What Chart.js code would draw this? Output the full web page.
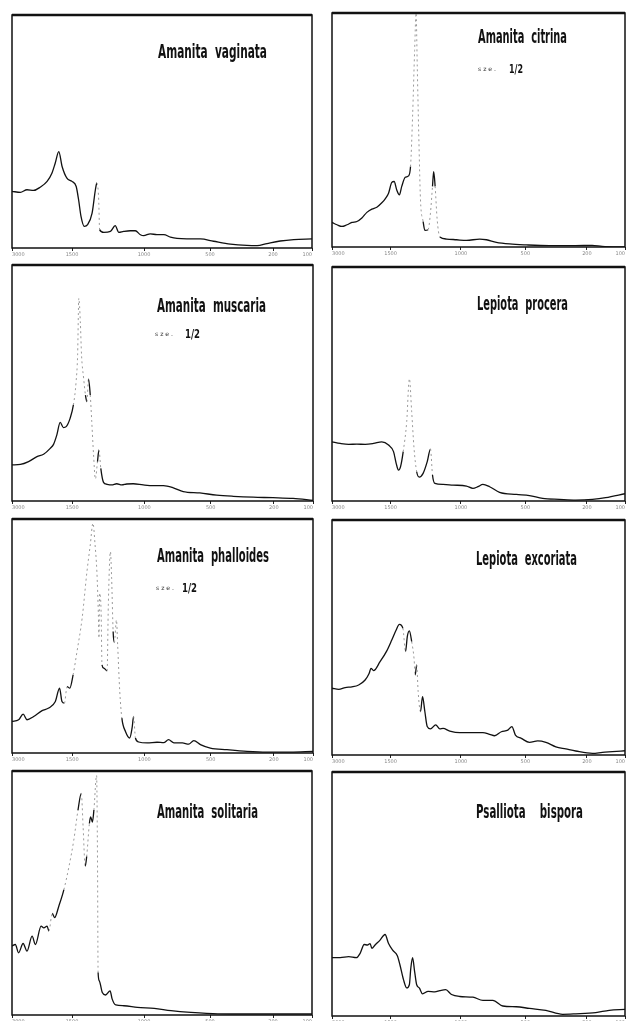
<!DOCTYPE html>
<html>
<head>
<meta charset="utf-8">
<script src="https://cdn.jsdelivr.net/npm/chart.js@4.4.1/dist/chart.umd.min.js"></script>
<style>
    html, body { margin: 0; padding: 0; background: #fff; overflow: hidden; }
    body { width: 626px; height: 1021px; position: relative; }
    .panel { position: absolute; }
    .lbl {
        position: absolute;
        white-space: pre;
        line-height: 1;
        font-family: 'Liberation Sans Narrow', 'DejaVu Sans Condensed', sans-serif;
        font-weight: bold;
        color: #111;
        transform-origin: 0 0;
    }
    .small { font-weight: normal; color: #333; }
</style>
</head>
<body>
<script>
// bottom axis ticks (same on every panel)
const tickPos = [0, 20, 44, 66, 87, 100];
const tickLabels = ['3000', '1500', '1000', '500', '200', '100'];

// curves, x and y in % of the frame
const vaginataX = [0, 2.8, 5, 7.2, 9.4, 11.7, 13.3, 14.4, 15.6, 16.7, 18.3, 20, 21.4, 22.2, 23, 24.1, 25.2, 26.7, 27.8, 28.3, 28.9, 29.2, 30.6, 32.8, 34.4, 35.6, 37.2, 39.4, 41.1, 42.8, 43.9, 46.1, 48.3, 50.6, 52.8, 55, 58.3, 62.8, 67.2, 72.8, 78.3, 81.7, 85, 89.4, 93.9, 100];
const vaginataY = [24.3, 23.9, 25, 24.7, 26.1, 28.6, 32.1, 36.4, 41.4, 35, 30, 28.6, 26.4, 20.7, 13.6, 9.3, 10, 15, 25, 27.9, 20.7, 7.9, 6.7, 7.1, 9.6, 6.7, 7.1, 7.4, 7.4, 5.7, 5.3, 6.1, 5.7, 5.7, 4.7, 4.1, 3.9, 3.9, 2.9, 1.7, 1.1, 1, 1.9, 3, 3.6, 3.9];

const citrinaX = [0, 1.7, 3.4, 5.1, 6.8, 8.5, 10.2, 11.9, 13.6, 15.3, 17, 18.1, 19.3, 20.4, 21.2, 22.1, 23, 23.8, 25, 26.1, 26.8, 27.5, 28.2, 28.7, 29.1, 29.6, 30.2, 31.1, 31.7, 32.8, 33.6, 34.3, 34.7, 35.2, 35.9, 36.8, 39.1, 42.5, 45.9, 50.4, 52.7, 56.1, 60.6, 66.3, 74.2, 83.1, 88.8, 92.2, 100];
const citrinaY = [10.5, 9.5, 8.8, 9.5, 10.5, 10.9, 12.4, 14.8, 16.2, 17, 18.9, 20.5, 23, 27.6, 28, 24.4, 22.3, 25.9, 29.8, 30.4, 34.4, 55.7, 84, 100, 77, 48.6, 20.2, 10.9, 7.1, 7.4, 14.5, 25.9, 32.2, 25.9, 11.6, 4.3, 3.4, 3.1, 2.8, 3.4, 3.1, 2, 1.3, 0.9, 0.6, 0.6, 0.7, 0.3, 0];

const muscariaX = [0, 2.8, 5.5, 8.3, 10.5, 12.7, 13.8, 14.9, 16, 17.1, 18, 19.3, 20.4, 21.3, 21.8, 22.2, 22.7, 23.1, 23.8, 24.4, 24.9, 25.4, 26, 26.5, 27.1, 27.7, 28.4, 28.9, 29.5, 30.4, 31.5, 33.1, 34.8, 36.5, 38.1, 40.3, 43.6, 47, 50.3, 53.6, 56.9, 62.4, 68, 73.5, 80.1, 86.7, 93.4, 100];
const muscariaY = [15.3, 15.5, 16.7, 18.8, 19.8, 22.3, 24, 28, 33.3, 31.1, 31.5, 35, 40.7, 50.6, 61.9, 85.9, 76, 61.9, 52, 44.9, 42.1, 51.7, 44.9, 33.6, 19.5, 9.3, 16.7, 21.6, 13.8, 7.9, 7.1, 6.8, 7.3, 6.8, 7.2, 7.3, 6.8, 6.5, 6.5, 5.6, 4, 3.4, 2.5, 2, 1.6, 1.4, 1.1, 0.3];

const proceraX = [0, 2.8, 5.7, 8.5, 11.3, 14.2, 17, 19.3, 21, 21.9, 22.7, 23.4, 24.3, 25.5, 26.4, 27.2, 28, 28.9, 29.8, 31.1, 32.5, 33.6, 34.3, 35.1, 37.9, 41.3, 45.9, 48.1, 49.8, 51.5, 53.8, 57.2, 62.9, 67.4, 71.9, 77.6, 83.2, 88.9, 93.4, 100];
const proceraY = [25.3, 24.6, 24.2, 24.3, 24.2, 24.6, 25.3, 23.9, 21.1, 16.1, 13.2, 14.7, 21.1, 33.9, 52.3, 38.1, 22.5, 12.5, 10.2, 11.8, 16.8, 22.2, 11.1, 7.5, 7.1, 6.8, 6.4, 5.4, 6.1, 7.1, 6.1, 3.7, 2.8, 2.3, 1.1, 0.7, 0.4, 0.7, 1.4, 3.1];

const phalloidesX = [0, 2.2, 3.7, 5, 7.2, 10, 12.2, 14.4, 15.8, 16.6, 17.4, 18.3, 19.2, 20.3, 21.6, 23.3, 24.9, 26, 26.9, 27.6, 28.2, 28.7, 28.9, 29.1, 29.6, 29.9, 30.5, 31.6, 32, 32.7, 33.1, 33.6, 34, 34.7, 35.1, 35.8, 36.5, 37.7, 39.1, 39.9, 40.4, 41, 42.1, 44.9, 48.2, 50.4, 52, 53.8, 56.6, 58.7, 60.4, 62.6, 65.9, 71.4, 78.1, 84.7, 92.5, 100];
const phalloidesY = [13.5, 14.2, 16.6, 14.2, 15.6, 18.1, 19.2, 22, 27.7, 22, 21.3, 28.4, 27.7, 33.4, 43.4, 57.6, 77.5, 88.9, 98.2, 88.9, 77.5, 59, 49.1, 68.3, 60.5, 37.7, 36.3, 35.1, 63.3, 86.1, 74.7, 51.9, 47.2, 56.9, 46.2, 26.3, 14.9, 9.2, 6.4, 10.7, 15.6, 6.4, 4.7, 4.3, 4.6, 4.4, 5.7, 4.3, 4.3, 3.8, 5.3, 3.6, 2.1, 1.4, 0.7, 0.4, 0.4, 0.7];

const excoriataX = [0, 2.3, 4.5, 6.8, 9.1, 11.3, 12.7, 13.3, 14.2, 16.4, 18.7, 20.4, 21.9, 23, 24.2, 25.1, 25.7, 26.4, 27.2, 28, 28.4, 28.9, 29.4, 30.2, 30.9, 31.7, 32.5, 33.6, 35.4, 36.8, 37.9, 40.2, 43.6, 48.1, 51.5, 53.8, 55.5, 57.8, 60, 61.4, 62.6, 64.6, 67.4, 70.2, 73, 76.4, 79.8, 83.2, 88.9, 92.3, 95.7, 100];
const excoriataY = [28.4, 27.9, 28.7, 29, 29.8, 31.9, 34.8, 36.9, 35.9, 39.7, 44.3, 48.9, 53.2, 55.6, 53.9, 44, 50.4, 52.8, 48.2, 41.1, 34, 38.3, 27, 18.4, 24.8, 18.4, 12.1, 11.1, 12.8, 11.1, 11.3, 10.2, 9.5, 9.5, 9.5, 8.8, 8.2, 9.9, 10.6, 12.1, 8.5, 7.1, 5.4, 6, 5.4, 3.5, 2.6, 1.7, 0.7, 1.1, 1.4, 1.8];

const solitariaX = [0, 1.1, 2.2, 3.7, 5, 6.7, 7.8, 9.7, 10.6, 11.7, 12.3, 13.4, 14.2, 15.6, 17.3, 19, 20.6, 22, 23.1, 23.7, 24.4, 24.9, 25.8, 26.2, 26.8, 27.3, 28.2, 28.5, 28.7, 29.1, 30.1, 31.2, 32.7, 33.4, 34.6, 37.3, 41.8, 47.4, 53, 59.6, 68.6, 79.7, 90.9, 100];
const solitariaY = [28.3, 28.9, 25.5, 29.3, 26.2, 32.3, 28.9, 36.4, 35.7, 36.4, 34.4, 41.6, 39.9, 44.6, 51.4, 60.9, 71.7, 84, 90.8, 77.2, 60.9, 65, 78.5, 81.2, 79.1, 84, 98.2, 63.6, 17.4, 14, 9.2, 8.2, 9.9, 6.5, 4.1, 3.8, 3.1, 2.7, 1.8, 1.1, 0.5, 0.4, 0.4, 0.4];

const bisporaX = [0, 2.8, 5.7, 8.3, 9.6, 11, 12.1, 13, 13.6, 14.7, 16.4, 18.1, 19.3, 20.7, 22.3, 23.2, 24.4, 25.5, 26.4, 26.9, 27.5, 28.2, 28.9, 29.8, 30.9, 32.8, 35.1, 36.8, 38.8, 40.8, 43.6, 48.1, 51.5, 54.9, 58.3, 62.9, 67.4, 73, 78.7, 83.2, 90, 94.6, 100];
const bisporaY = [23.9, 23.9, 24.3, 23.9, 25.7, 29.3, 29.1, 29.7, 27.7, 29.1, 31.1, 33.4, 29.7, 27, 24.7, 20.9, 14.9, 11.5, 12.8, 19.6, 23.9, 18.2, 12.8, 11.5, 9.1, 10.1, 9.9, 10.4, 10.8, 8.8, 8, 7.7, 6.4, 6.4, 4.1, 3.8, 3.1, 2.3, 0.7, 0.9, 1.4, 2.3, 2.7];

// frame of each plot [left, top, right, bottom], title placement, and the
// slope above which the pen trace turns faint
const panels = [
    { name: 'Amanita  vaginata', x: vaginataX, y: vaginataY, box: [12, 15, 312, 248], title: [158, 43.5, 109], sub: null, fast: 9.5 },
    { name: 'Amanita  citrina', x: citrinaX, y: citrinaY, box: [332, 13, 625, 247], title: [478, 28.5, 89], sub: [478, 509, 64, 14], fast: 5.5 },
    { name: 'Amanita  muscaria', x: muscariaX, y: muscariaY, box: [12, 265, 313, 501], title: [157, 297, 109], sub: [155, 185, 329, 15], fast: 5.5 },
    { name: 'Lepiota  procera', x: proceraX, y: proceraY, box: [332, 267, 625, 501], title: [477, 295, 91], sub: null, fast: 5.5 },
    { name: 'Amanita  phalloides', x: phalloidesX, y: phalloidesY, box: [12, 519, 313, 753], title: [157, 547, 112], sub: [156, 182, 583, 15], fast: 5.5 },
    { name: 'Lepiota  excoriata', x: excoriataX, y: excoriataY, box: [332, 520, 625, 755], title: [476, 550, 101], sub: null, fast: 6.5 },
    { name: 'Amanita  solitaria', x: solitariaX, y: solitariaY, box: [12, 771, 312, 1015], title: [157, 803, 101], sub: null, fast: 5.5 },
    { name: 'Psalliota    bispora', x: bisporaX, y: bisporaY, box: [332, 772, 625, 1016], title: [476, 803.5, 107], sub: null, fast: 9.5 }
];

const PAD_L = 2, PAD_R = 1, PAD_T = 2, AXIS_H = 12;

// the pen moved fast on steep parts, so those came out faint and broken
const steep = (ctx, limit) => {
    const dx = Math.abs(ctx.p1.parsed.x - ctx.p0.parsed.x);
    const dy = Math.abs(ctx.p1.parsed.y - ctx.p0.parsed.y);
    return dy > 7 && dy / Math.max(dx, 0.01) > limit;
};

const framePlugin = {
    id: 'frame',
    afterDatasetsDraw(chart) {
        const a = chart.chartArea;
        const c = chart.ctx;
        c.save();
        c.strokeStyle = '#111';
        c.lineWidth = 1.5;
        c.strokeRect(a.left, a.top, a.right - a.left, a.bottom - a.top);
        c.lineWidth = 2.5;
        c.beginPath();
        c.moveTo(a.left, a.top);
        c.lineTo(a.right, a.top);
        c.stroke();
        c.restore();
    }
};

function addLabel(text, left, capTop, width, size, cls) {
    const d = document.createElement('div');
    d.className = 'lbl' + (cls ? ' ' + cls : '');
    d.textContent = text;
    d.style.fontSize = size + 'px';
    d.style.left = left + 'px';
    d.style.top = (capTop - 0.1175 * size) + 'px';
    document.body.appendChild(d);
    if (width) {
        const w = d.getBoundingClientRect().width;
        d.style.transform = `scaleX(${width / w})`;
    }
}

panels.forEach((p, i) => {
    const [L, T, R, B] = p.box;
    const wrap = document.createElement('div');
    wrap.className = 'panel';
    wrap.style.left = (L - PAD_L) + 'px';
    wrap.style.top = (T - PAD_T) + 'px';
    wrap.style.width = (R - L + PAD_L + PAD_R) + 'px';
    wrap.style.height = (B - T + PAD_T + AXIS_H) + 'px';
    const canvas = document.createElement('canvas');
    canvas.id = 'panel' + i;
    wrap.appendChild(canvas);
    document.body.appendChild(wrap);

    new Chart(canvas, {
        type: 'line',
        data: {
            datasets: [{
                label: p.name.replace(/\s+/g, ' '),
                data: p.x.map((x, j) => ({ x: x, y: p.y[j] })),
                borderColor: '#111',
                borderWidth: 1.3,
                pointRadius: 0,
                fill: false,
                tension: 0.25,
                cubicInterpolationMode: 'monotone',
                segment: {
                    borderColor: ctx => steep(ctx, p.fast) ? '#9a9a9a' : undefined,
                    borderDash: ctx => steep(ctx, p.fast) ? [2, 3] : undefined,
                    borderWidth: ctx => steep(ctx, p.fast) ? 1 : undefined
                }
            }]
        },
        options: {
            responsive: true,
            maintainAspectRatio: false,
            animation: false,
            layout: {
                padding: { left: PAD_L, right: PAD_R, top: PAD_T, bottom: 0 }
            },
            plugins: {
                legend: { display: false },
                tooltip: { enabled: false }
            },
            scales: {
                x: {
                    type: 'linear',
                    min: 0,
                    max: 100,
                    afterBuildTicks: s => { s.ticks = tickPos.map(v => ({ value: v })); },
                    afterFit: s => { s.height = AXIS_H; },
                    border: { display: false },
                    grid: {
                        drawOnChartArea: false,
                        drawTicks: true,
                        tickLength: 3,
                        color: '#222'
                    },
                    ticks: {
                        autoSkip: false,
                        maxRotation: 0,
                        align: 'inner',
                        padding: 1,
                        color: '#888',
                        font: { size: 5, family: 'DejaVu Sans' },
                        callback: (v, idx) => tickLabels[idx]
                    }
                },
                y: {
                    display: false,
                    min: 0,
                    max: 100
                }
            }
        },
        plugins: [framePlugin]
    });

    addLabel(p.name, p.title[0], p.title[1], p.title[2], 20);
    if (p.sub) {
        addLabel('s z e .', p.sub[0], p.sub[2] + 3, 18, 6, 'small');
        addLabel('1/2', p.sub[1], p.sub[2], p.sub[3], 12);
    }
});
</script>
</body>
</html>
